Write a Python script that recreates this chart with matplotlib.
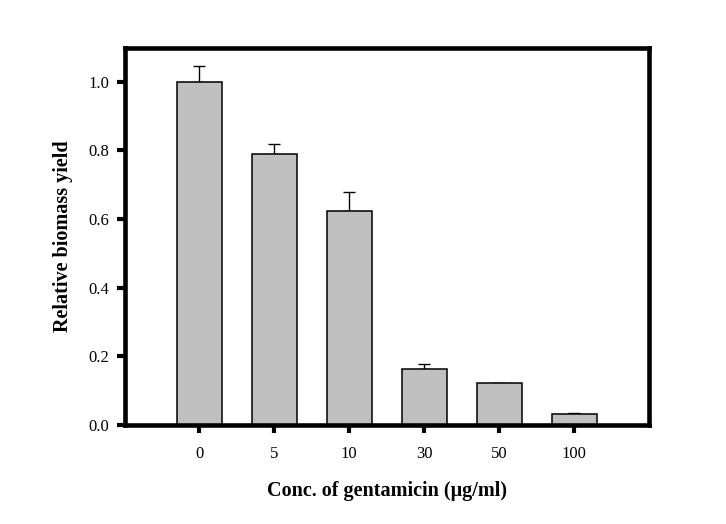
import matplotlib
matplotlib.use("Agg")
import matplotlib.pyplot as plt
import numpy as np

categories = ["0", "5", "10", "30", "50", "100"]
values = [1.0, 0.788, 0.622, 0.162, 0.121, 0.031]
errors = [0.045, 0.030, 0.058, 0.015, 0.0, 0.003]
yticks = [0.0, 0.2, 0.4, 0.6, 0.8, 1.0]

plt.rcParams['font.family'] = ['Liberation Serif', 'DejaVu Serif']

fig = plt.figure(figsize=(7.26, 5.24), dpi=100)
ax = fig.add_axes([124.5/726, 1-424.7/524, (649-124.5)/726, (424.7-47.5)/524])

x = np.arange(len(categories))
ax.bar(x, values, width=0.6, color='#c0c0c0', edgecolor='black', linewidth=1.1, zorder=2)
ax.errorbar(x, values, yerr=[np.zeros(len(errors)), errors], fmt='none',
            ecolor='black', elinewidth=1.0, capsize=4, capthick=1.0, zorder=1)

ax.set_xlim(-1, 6)
ax.set_ylim(0, 1.1)
ax.set_xticks(x)
ax.set_xticklabels(categories)
ax.set_yticks(yticks)
ax.set_yticklabels([f"{t:.1f}" for t in yticks])

for s in ax.spines.values():
    s.set_linewidth(3.3)
    s.set_capstyle('projecting')

ax.tick_params(axis='both', direction='out', length=6, width=3.0, labelsize=12, colors='black')
ax.tick_params(axis='y', pad=5)
ax.tick_params(axis='x', pad=9)
for t in ax.xaxis.get_ticklines() + ax.yaxis.get_ticklines():
    t.set_solid_capstyle('round')

ax.set_xlabel("Conc. of gentamicin (\u03bcg/ml)", fontsize=14.5, fontweight='bold', labelpad=14)
ax.set_ylabel("Relative biomass yield", fontsize=14.5, fontweight='bold', labelpad=11)

fig.savefig("out.png", dpi=100)
